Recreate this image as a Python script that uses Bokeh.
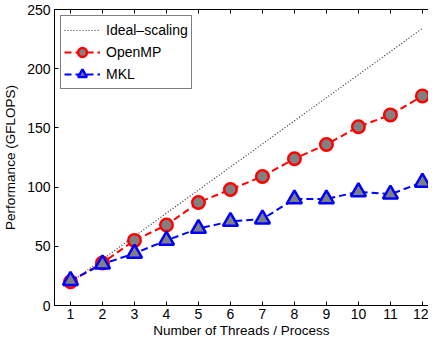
from bokeh.plotting import figure
from bokeh.models import LinearAxis, Legend, LegendItem, FixedTicker, Range1d, CustomJSTickFormatter
from bokeh.embed import file_html
from bokeh.resources import INLINE

threads = [1, 2, 3, 4, 5, 6, 7, 8, 9, 10, 11, 12]
ideal = [19.5, 39, 58.5, 78, 97.5, 117, 136.5, 156, 175.5, 195, 214.5, 234]
openmp = [20, 36, 55, 68, 87, 98, 109, 124, 136, 151, 161, 177]
mkl = [21, 35, 44, 55, 65, 71, 73, 90, 90, 96, 94, 104]
y_ticks = [0, 50, 100, 150, 200, 250]

FONT = "Liberation Sans"

p = figure(width=428, height=340, output_backend="svg", toolbar_location=None,
           x_range=Range1d(0.5, 12.19), y_range=Range1d(0, 250),
           min_border_left=48, min_border_right=0, min_border_top=9, min_border_bottom=35)
p.outline_line_color = None
p.grid.visible = False
p.background_fill_color = "white"
p.border_fill_color = "white"

r_ideal = p.line(threads, ideal, line_color="#333333", line_width=1.2, line_dash="1 2")
r_omp_l = p.line(threads, openmp, line_color="#ff0000", line_width=2, line_dash="7 4")
r_omp_m = p.scatter(threads, openmp, marker="circle", size=12.5, fill_color="#808080",
                    line_color="#ff0000", line_width=2.5)
r_mkl_l = p.line(threads, mkl, line_color="#0000ff", line_width=2, line_dash="7 4")
r_mkl_m = p.scatter(threads, mkl, marker="triangle", size=15, fill_color="#808080",
                    line_color="#0000ff", line_width=2.5)

for ax in p.xaxis + p.yaxis:
    ax.major_tick_in = 4
    ax.major_tick_out = 0
    ax.minor_tick_in = 0
    ax.minor_tick_out = 0
    ax.axis_line_color = "black"
    ax.major_tick_line_color = "black"
    ax.major_label_text_font = FONT
    ax.major_label_text_font_size = "14px"
    ax.major_label_text_color = "black"
    ax.axis_label_text_font = FONT
    ax.axis_label_text_font_size = "13.5px"
    ax.axis_label_text_font_style = "normal"
    ax.axis_label_text_color = "black"

p.xaxis.ticker = FixedTicker(ticks=threads)
p.yaxis.ticker = FixedTicker(ticks=y_ticks)
p.xaxis.axis_label = "Number of Threads / Process"
p.yaxis.axis_label = "Performance (GFLOPS)"
p.xaxis.major_label_standoff = 3
p.yaxis.major_label_standoff = 4
p.xaxis.axis_label_standoff = 1
p.yaxis.axis_label_standoff = 6

top = LinearAxis(ticker=FixedTicker(ticks=threads), major_tick_in=4, major_tick_out=0,
                 minor_tick_in=0, minor_tick_out=0,
                 formatter=CustomJSTickFormatter(code="return ''"),
                 major_label_standoff=0, axis_line_color="black")
p.add_layout(top, "above")

legend = Legend(items=[
    LegendItem(label="Ideal–scaling", renderers=[r_ideal]),
    LegendItem(label="OpenMP", renderers=[r_omp_l, r_omp_m]),
    LegendItem(label="MKL", renderers=[r_mkl_l, r_mkl_m]),
], location="top_left")
legend.margin = 6
legend.padding = 3
legend.spacing = -6
legend.glyph_width = 36
legend.glyph_height = 22
legend.label_height = 16
legend.label_standoff = 6
legend.label_text_font = FONT
legend.label_text_font_size = "14px"
legend.label_text_color = "black"
legend.border_line_color = "black"
legend.border_line_width = 1
legend.background_fill_alpha = 1
p.add_layout(legend, "center")

open("out.html", "w").write(file_html(p, INLINE))
